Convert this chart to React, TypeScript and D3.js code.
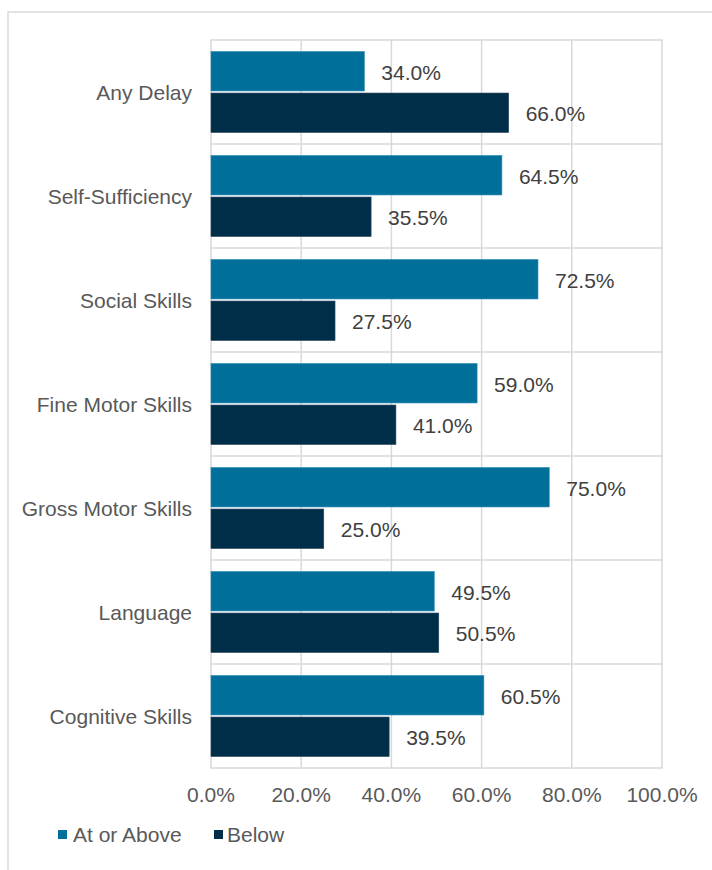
import React from "react";
import * as d3 from "d3";

const categories = [
  "Any Delay",
  "Self-Sufficiency",
  "Social Skills",
  "Fine Motor Skills",
  "Gross Motor Skills",
  "Language",
  "Cognitive Skills",
];
const seriesNames = ["At or Above", "Below"];
const atOrAbove = [34.0, 64.5, 72.5, 59.0, 75.0, 49.5, 60.5];
const below = [66.0, 35.5, 27.5, 41.0, 25.0, 50.5, 39.5];
const xTicks = [0, 20, 40, 60, 80, 100];
const colors = ["#00709B", "#002E48"];

const W = 712;
const H = 870;
const FONT = "'Liberation Sans', Arial, sans-serif";
const FS = 21;

export default function App() {
  const x = d3.scaleLinear().domain([0, 100]).range([211, 662]);
  const y0 = d3.scaleBand<string>().domain(categories).range([40, 768]);
  const y1 = d3
    .scaleBand<string>()
    .domain(seriesNames)
    .range([11.5, 92.5])
    .paddingInner(0.05);
  const values = [atOrAbove, below];
  const fmt = d3.format(".1f");
  const grid = "#d9d9d9";

  return (
    <svg
      width={W}
      height={H}
      style={{ position: "absolute", left: 0, top: 0, display: "block", background: "#fff" }}
      fontFamily={FONT}
    >
      <rect x={8} y={12} width={W + 20} height={H + 20} fill="none" stroke={grid} strokeWidth={1.5} />
      {xTicks.map((t) => (
        <line key={"v" + t} x1={x(t)} x2={x(t)} y1={40} y2={768} stroke={grid} strokeWidth={1.5} />
      ))}
      {categories.map((c) => (
        <line key={"h" + c} x1={210} x2={663} y1={y0(c)!} y2={y0(c)!} stroke={grid} strokeWidth={1.5} />
      ))}
      <line x1={210} x2={663} y1={768} y2={768} stroke={grid} strokeWidth={1.5} />
      {categories.map((c, i) =>
        seriesNames.map((s, j) => {
          const v = values[j][i];
          const by = y0(c)! + y1(s)!;
          const bh = y1.bandwidth();
          return (
            <g key={c + s}>
              <rect
                x={x(0)}
                y={by}
                width={x(v) - x(0)}
                height={bh}
                fill={colors[j]}
                stroke={j === 0 ? "#2a8ab0" : "#23465c"}
                strokeWidth={0.6}
              />
              <text x={x(v) + 17} y={by + bh / 2 + 8.5} fontSize={FS} fill="#404040">
                {fmt(v)}%
              </text>
            </g>
          );
        })
      )}
      {categories.map((c) => (
        <text
          key={"c" + c}
          x={192}
          y={y0(c)! + y0.bandwidth() / 2 + 7.5}
          textAnchor="end"
          fontSize={FS}
          fill="#595959"
        >
          {c}
        </text>
      ))}
      {xTicks.map((t) => (
        <text key={"t" + t} x={x(t)} y={802} textAnchor="middle" fontSize={FS} fill="#595959">
          {fmt(t)}%
        </text>
      ))}
      <rect x={58} y={830} width={9} height={9} fill={colors[0]} />
      <text x={73} y={842} fontSize={FS} fill="#595959">
        {seriesNames[0]}
      </text>
      <rect x={214} y={830} width={9} height={9} fill={colors[1]} />
      <text x={227} y={842} fontSize={FS} fill="#595959">
        {seriesNames[1]}
      </text>
    </svg>
  );
}
